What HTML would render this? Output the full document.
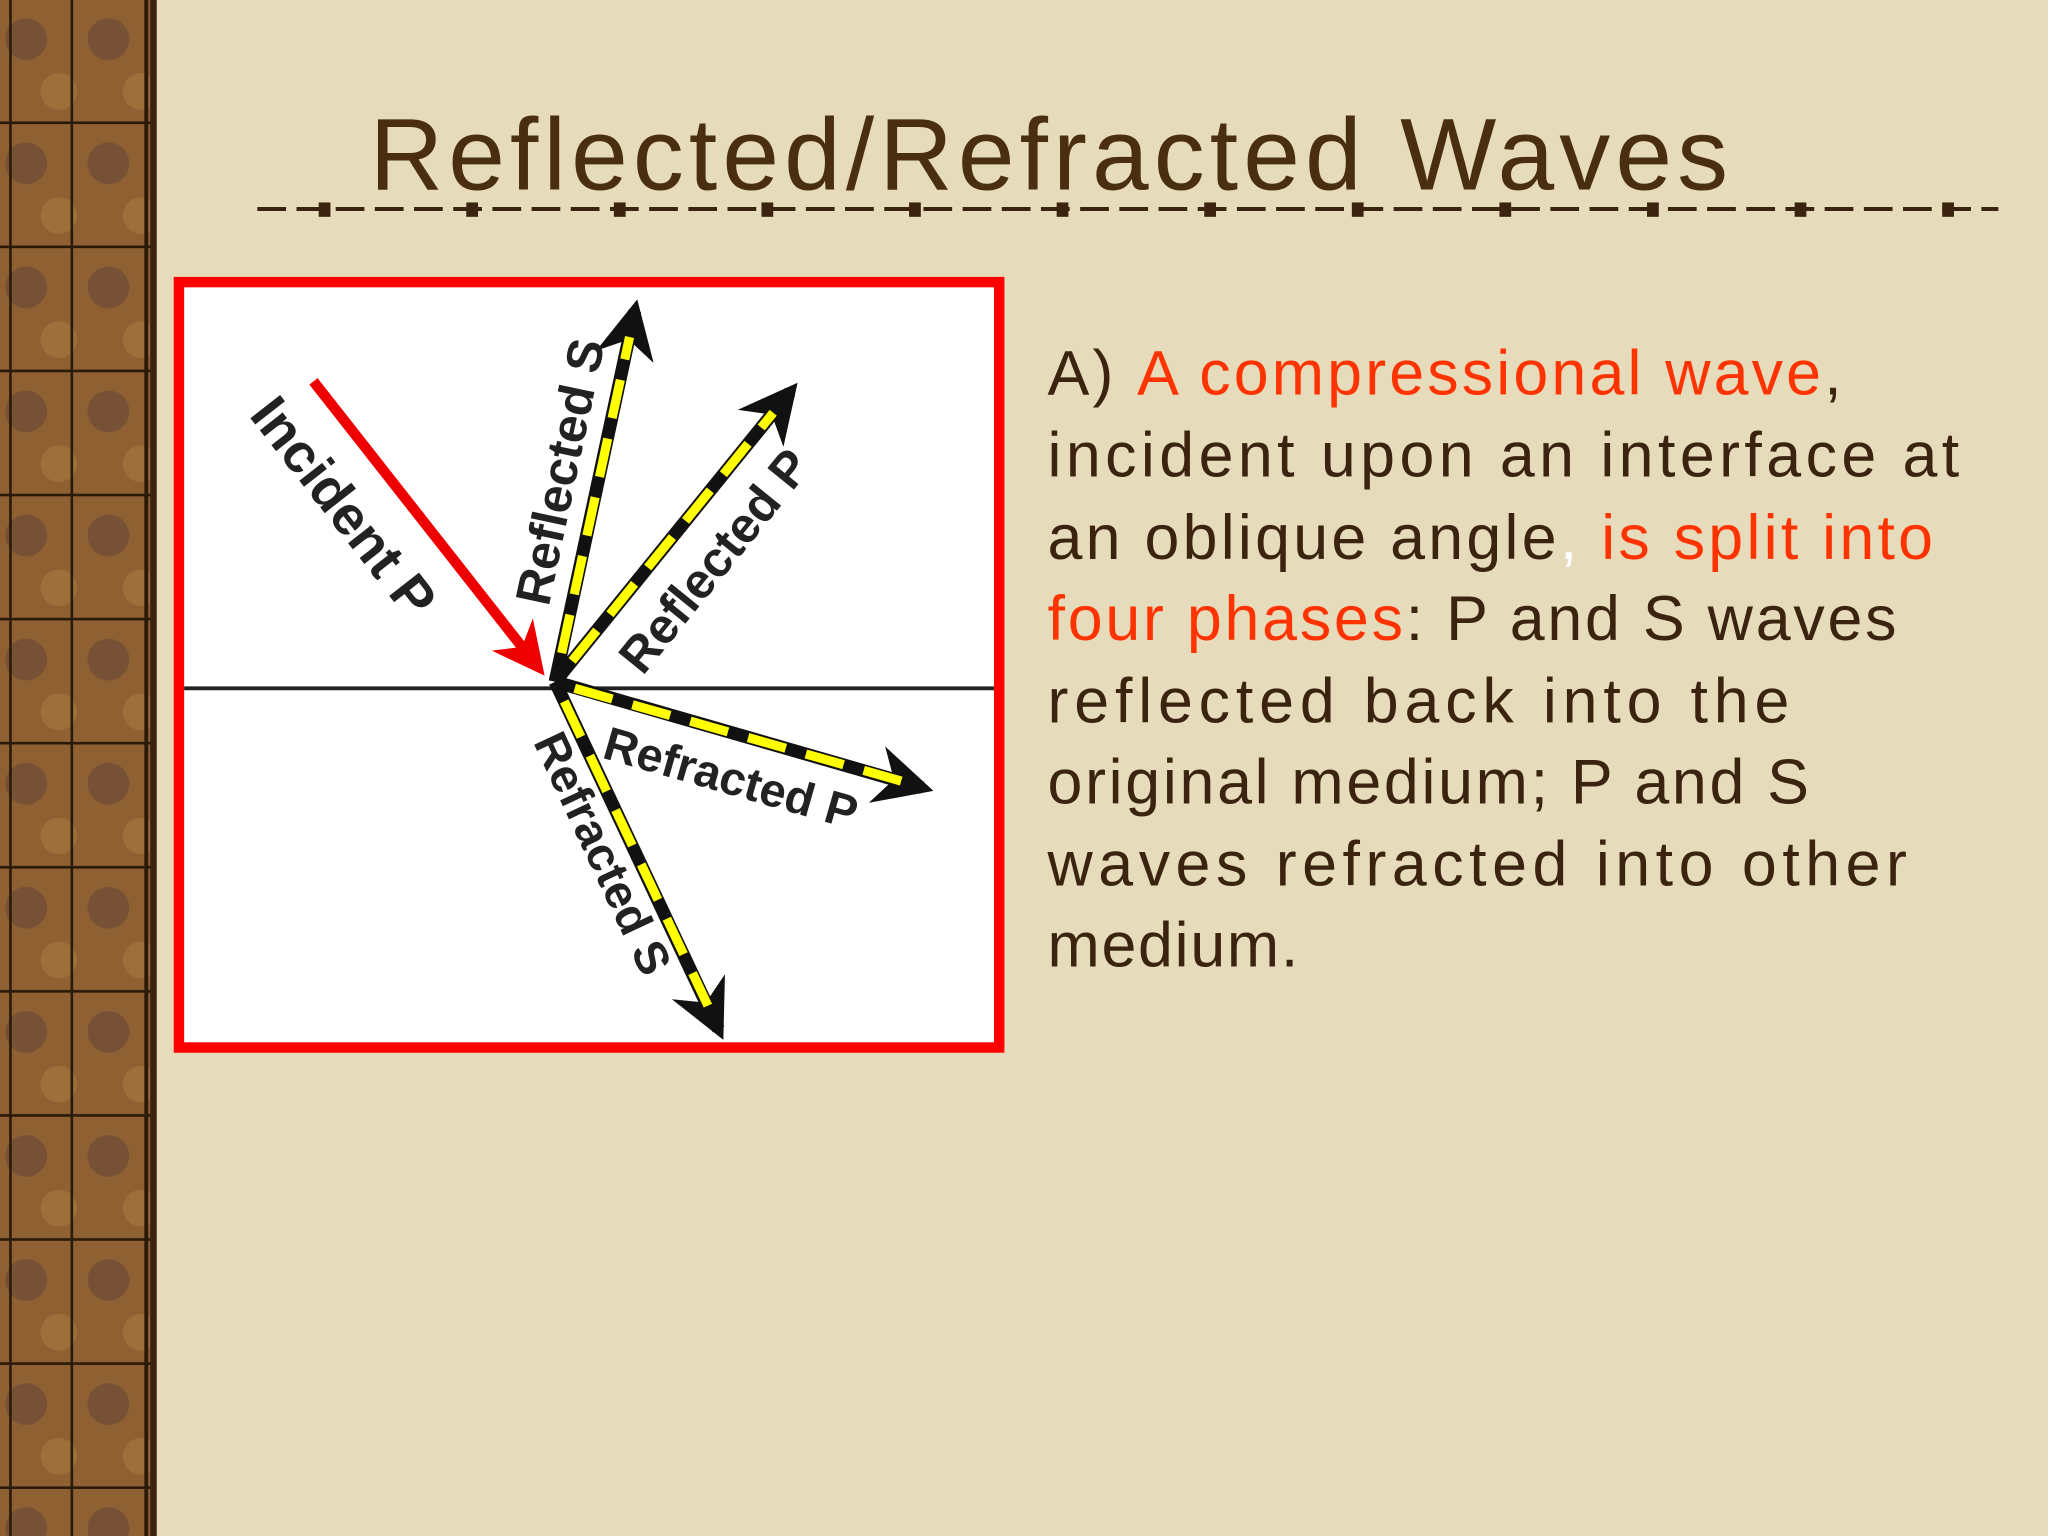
<!DOCTYPE html>
<html><head><meta charset="utf-8"><style>
html,body{margin:0;padding:0;width:2048px;height:1536px;overflow:hidden;background:#e6dbbb}
svg{display:block}
</style></head><body>
<svg width="2048" height="1536" viewBox="0 0 1568 1176" xmlns="http://www.w3.org/2000/svg">
<defs>
<pattern id="grid" width="63" height="95" patternUnits="userSpaceOnUse">
<rect width="63" height="95" fill="#8e6032"/>
<circle cx="20" cy="30" r="16" fill="#6e4a36" opacity="0.7"/>
<circle cx="45" cy="70" r="14" fill="#a87a40" opacity="0.6"/>
<line x1="0" y1="94" x2="63" y2="94" stroke="#2a1a0a" stroke-width="2"/>
</pattern>
<marker id="ah" viewBox="0 0 10 10" refX="8" refY="5" markerWidth="4.5" markerHeight="4.5" orient="auto"><path d="M0,0 L10,5 L0,10 L3,5 Z" fill="#111"/></marker>
<marker id="ahr" viewBox="0 0 10 10" refX="8" refY="5" markerWidth="5" markerHeight="5" orient="auto"><path d="M0,0 L10,5 L0,10 L3,5 Z" fill="#e00"/></marker>
</defs>
<rect width="1568" height="1176" fill="#e6dbbb"/>
<rect x="0" y="0" width="118" height="1176" fill="url(#grid)"/>
<line x1="8" y1="0" x2="8" y2="1176" stroke="#2a1a0a" stroke-width="2"/>
<line x1="55" y1="0" x2="55" y2="1176" stroke="#2a1a0a" stroke-width="2"/>
<line x1="112" y1="0" x2="112" y2="1176" stroke="#2a1a0a" stroke-width="3"/>
<rect x="115" y="0" width="5" height="1176" fill="#3a2410"/>
<text x="283" y="145" font-family="Liberation Sans, sans-serif" font-size="78" fill="#4a2e10" textLength="1040" lengthAdjust="spacing">Reflected/Refracted Waves</text>
<line x1="197" y1="160" x2="1530" y2="160" stroke="#3a2410" stroke-width="3" stroke-dasharray="22,8"/>
<g fill="#3a2410">
<rect x="244" y="155" width="9" height="11"/><rect x="357" y="155" width="9" height="11"/><rect x="470" y="155" width="9" height="11"/><rect x="583" y="155" width="9" height="11"/><rect x="696" y="155" width="9" height="11"/><rect x="809" y="155" width="9" height="11"/><rect x="922" y="155" width="9" height="11"/><rect x="1035" y="155" width="9" height="11"/><rect x="1148" y="155" width="9" height="11"/><rect x="1261" y="155" width="9" height="11"/><rect x="1374" y="155" width="9" height="11"/><rect x="1487" y="155" width="9" height="11"/>
</g>
<rect x="137" y="216" width="628" height="586" fill="#fff" stroke="#f00" stroke-width="8"/>
<line x1="141" y1="527" x2="761" y2="527" stroke="#222" stroke-width="3"/>
<line x1="240" y1="292" x2="412" y2="511" stroke="#e00" stroke-width="8" marker-end="url(#ahr)"/>
<g stroke-width="10" fill="none">
<line x1="425" y1="522" x2="486" y2="238" stroke="#111" marker-end="url(#ah)"/>
<line x1="430" y1="500" x2="482" y2="258" stroke="#ff0" stroke-width="7" stroke-dasharray="30,16"/>
<line x1="425" y1="522" x2="605" y2="300" stroke="#111" marker-end="url(#ah)"/>
<line x1="438" y1="506" x2="592" y2="316" stroke="#ff0" stroke-width="7" stroke-dasharray="30,16"/>
<line x1="425" y1="522" x2="706" y2="603" stroke="#111" marker-end="url(#ah)"/>
<line x1="440" y1="527" x2="690" y2="598" stroke="#ff0" stroke-width="7" stroke-dasharray="30,16"/>
<line x1="425" y1="522" x2="550" y2="788" stroke="#111" marker-end="url(#ah)"/>
<line x1="432" y1="537" x2="542" y2="770" stroke="#ff0" stroke-width="7" stroke-dasharray="30,16"/>
</g>
<g font-family="Liberation Sans, sans-serif" font-weight="bold" fill="#222">
<text font-size="42" transform="translate(190,318) rotate(52)">Incident P</text>
<text font-size="38" transform="translate(420,465) rotate(-78)">Reflected S</text>
<text font-size="38" transform="translate(492,518) rotate(-51)">Reflected P</text>
<text font-size="36" transform="translate(460,580) rotate(16)">Refracted P</text>
<text font-size="36" transform="translate(408,568) rotate(65)">Refracted S</text>
</g>
<g font-family="Liberation Sans, sans-serif" font-size="48" fill="#3a2410" lengthAdjust="spacing">
<text x="802" y="302" textLength="608">A) <tspan fill="#ff3300">A compressional wave</tspan>,</text>
<text x="802" y="365" textLength="698">incident upon an interface at</text>
<text x="802" y="428" textLength="678">an oblique angle<tspan fill="#fff">,</tspan> <tspan fill="#ff3300">is split into</tspan></text>
<text x="802" y="490" textLength="650"><tspan fill="#ff3300">four phases</tspan>: P and S waves</text>
<text x="802" y="553" textLength="568">reflected back into the</text>
<text x="802" y="615" textLength="583">original medium; P and S</text>
<text x="802" y="678" textLength="658">waves refracted into other</text>
<text x="802" y="740" textLength="192">medium.</text>
</g>
</svg>
</body></html>
